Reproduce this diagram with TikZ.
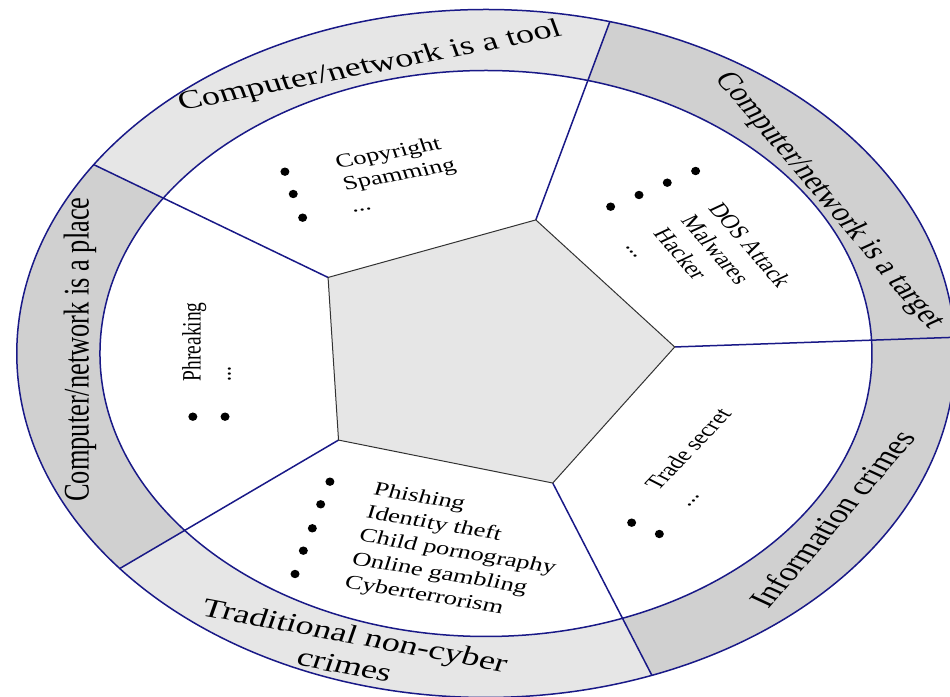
\documentclass[tikz,border=0pt]{standalone}
\usepackage{fontspec}
\setmainfont{Liberation Serif}
\definecolor{navy}{RGB}{25,25,135}
\definecolor{ringlight}{RGB}{230,230,230}
\definecolor{ringdark}{RGB}{208,208,208}
\definecolor{pentfill}{RGB}{230,230,230}
\definecolor{pentline}{RGB}{50,50,50}
\begin{document}
\begin{tikzpicture}[x=1bp,y=1bp,xscale=1.364,
  ringlabel/.style={transform shape, font=\fontsize{26.5}{31}\selectfont, align=center, inner sep=0pt},
  itemtext/.style={transform shape, font=\fontsize{19.5}{23.5}\selectfont, align=left, inner sep=0pt},
  divider/.style={draw=navy, line width=1.5bp},
  ringline/.style={draw=navy, line width=1.5bp},
  dot/.style={fill=black}]
\useasboundingbox (-356.3,-343.5) rectangle (340.2,353.5);
\clip (-356.3,-343.5) rectangle (340.2,353.5);
% ring sectors
\fill[ringdark] (2.7:344) arc[start angle=2.7,end angle=74.7,radius=344] -- (74.7:283) arc[start angle=74.7,end angle=2.7,radius=283] -- cycle;
\fill[ringlight] (74.7:344) arc[start angle=74.7,end angle=146.7,radius=344] -- (146.7:283) arc[start angle=146.7,end angle=74.7,radius=283] -- cycle;
\fill[ringdark] (146.7:344) arc[start angle=146.7,end angle=218.7,radius=344] -- (218.7:283) arc[start angle=218.7,end angle=146.7,radius=283] -- cycle;
\fill[ringlight] (218.7:344) arc[start angle=218.7,end angle=290.7,radius=344] -- (290.7:283) arc[start angle=290.7,end angle=218.7,radius=283] -- cycle;
\fill[ringdark] (290.7:344) arc[start angle=290.7,end angle=362.7,radius=344] -- (362.7:283) arc[start angle=362.7,end angle=290.7,radius=283] -- cycle;
\draw[ringline] (0,0) circle[radius=344];
\draw[ringline] (0,0) circle[radius=283];
% pentagon
\coordinate (p0) at (2.7:138.5);
\coordinate (p1) at (74.7:138.5);
\coordinate (p2) at (146.7:138.5);
\coordinate (p3) at (218.7:138.5);
\coordinate (p4) at (290.7:138.5);
\coordinate (o0) at (2.7:344);
\coordinate (o1) at (74.7:344);
\coordinate (o2) at (146.7:344);
\coordinate (o3) at (218.7:344);
\coordinate (o4) at (290.7:344);
\draw[divider] (p0) -- (o0);
\draw[divider] (p1) -- (o1);
\draw[divider] (p2) -- (o2);
\draw[divider] (p3) -- (o3);
\draw[divider] (p4) -- (o4);
\filldraw[fill=pentfill, draw=pentline, line width=1bp] (p0) -- (p1) -- (p2) -- (p3) -- (p4) -- cycle;
% ring labels
\node[ringlabel, rotate=15] (lbltool) at (-85.0,286.5) {Computer/network is a tool};
\node[ringlabel, rotate=-58, font=\fontsize{25.5}{31}\selectfont] (lbltarget) at (251.5,152.5) {Computer/network is a target};
\node[ringlabel, rotate=90] (lblplace) at (-297.7,4) {Computer/network is a place};
\node[ringlabel, rotate=57.7] (lblinfo) at (253.7,-165.5) {Information crimes};
\node[ringlabel, rotate=-14.4] (lbltrad) at (-99.7,-296.5) {Traditional non-cyber\\crimes};
% sector texts
\node[itemtext, rotate=14, font=\fontsize{19.5}{23}\selectfont] (txttool) at (-63.8,179.5) {Copyright\\Spamming\\...};
\node[itemtext, rotate=-57.5, font=\fontsize{19.5}{24}\selectfont] (txttarget) at (163.5,89.4) {DOS Attack\\Malwares\\Hacker\\...};
\node[itemtext, rotate=90, font=\fontsize{19.5}{22}\selectfont] (txtplace) at (-204.8,11.8) {Phreaking\\...};
\node[itemtext, rotate=-13, font=\fontsize{19.5}{23.8}\selectfont] (txttrad) at (-20.9,-199.5) {Phishing\\Identity theft\\Child pornography\\Online gambling\\Cyberterrorism};
\node[itemtext, rotate=55] (txtinfo) at (159.2,-103.7) {Trade secret\\[4bp]...};
% bullets
\fill[dot] (-147.4,181.8) ellipse[x radius=3.3, y radius=4.2];
\fill[dot] (-141.3,159.5) ellipse[x radius=3.3, y radius=4.2];
\fill[dot] (-134.4,135.8) ellipse[x radius=3.3, y radius=4.2];
\fill[dot] (91.4,146.8) ellipse[x radius=3.3, y radius=4.2];
\fill[dot] (112.2,158.5) ellipse[x radius=3.3, y radius=4.2];
\fill[dot] (132.9,170.8) ellipse[x radius=3.3, y radius=4.2];
\fill[dot] (153.7,182.5) ellipse[x radius=3.3, y radius=4.2];
\fill[dot] (-214.9,-63.2) ellipse[x radius=3.3, y radius=4.2];
\fill[dot] (-191.3,-63.2) ellipse[x radius=3.3, y radius=4.2];
\fill[dot] (-114.4,-128.2) ellipse[x radius=3.3, y radius=4.2];
\fill[dot] (-121.2,-150.8) ellipse[x radius=3.3, y radius=4.2];
\fill[dot] (-127.3,-174.8) ellipse[x radius=3.3, y radius=4.2];
\fill[dot] (-133.9,-197.2) ellipse[x radius=3.3, y radius=4.2];
\fill[dot] (-140.0,-220.5) ellipse[x radius=3.3, y radius=4.2];
\fill[dot] (106.8,-169.2) ellipse[x radius=3.3, y radius=4.2];
\fill[dot] (127.1,-180.5) ellipse[x radius=3.3, y radius=4.2];
\end{tikzpicture}
\end{document}
